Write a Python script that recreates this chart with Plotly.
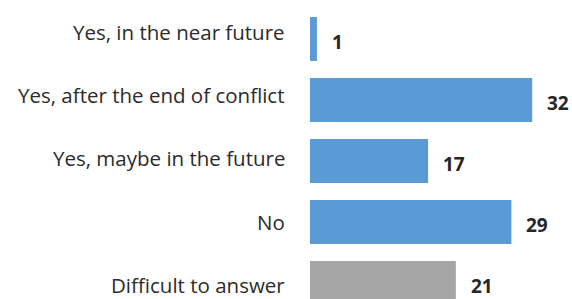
import plotly.graph_objects as go

categories = ["Yes, in the near future", "Yes, after the end of conflict",
              "Yes, maybe in the future", "No", "Difficult to answer"]
values = [1, 32, 17, 29, 21]
bar_colors = ["#5B9BD5", "#5B9BD5", "#5B9BD5", "#5B9BD5", "#A5A5A5"]

FONT = "Open Sans"
fig = go.Figure()
fig.add_trace(go.Bar(
    x=values, y=categories, orientation="h",
    marker=dict(color=bar_colors, line=dict(width=0)),
    width=0.72, hoverinfo="skip",
))

annotations = []
for i, (c, v) in enumerate(zip(categories, values)):
    annotations.append(dict(
        x=0, y=c, xref="x", yref="y", text=c, showarrow=False,
        xanchor="right", yanchor="middle", xshift=-23, yshift=7 - 2.2 * i,
        font=dict(family=FONT, size=20.5, color="#2b2b2b"),
    ))
    annotations.append(dict(
        x=v, y=c, xref="x", yref="y", text="<b>%d</b>" % v, showarrow=False,
        xanchor="left", yanchor="middle", xshift=13, yshift=-3,
        font=dict(family=FONT, size=19, color="#262626"),
    ))

fig.update_layout(
    width=572, height=299,
    margin=dict(l=310, r=12, t=0, b=0),
    paper_bgcolor="white", plot_bgcolor="white",
    showlegend=False,
    xaxis=dict(range=[0, 36], visible=False, fixedrange=True),
    yaxis=dict(type="category", range=[4.262, -0.639], autorange=False,
               showticklabels=False, showgrid=False, zeroline=False,
               showline=False, ticks="", fixedrange=True),
    annotations=annotations,
)
fig.write_html("out.html", config={"displayModeBar": False},
               post_script="document.body.style.margin='0';")
